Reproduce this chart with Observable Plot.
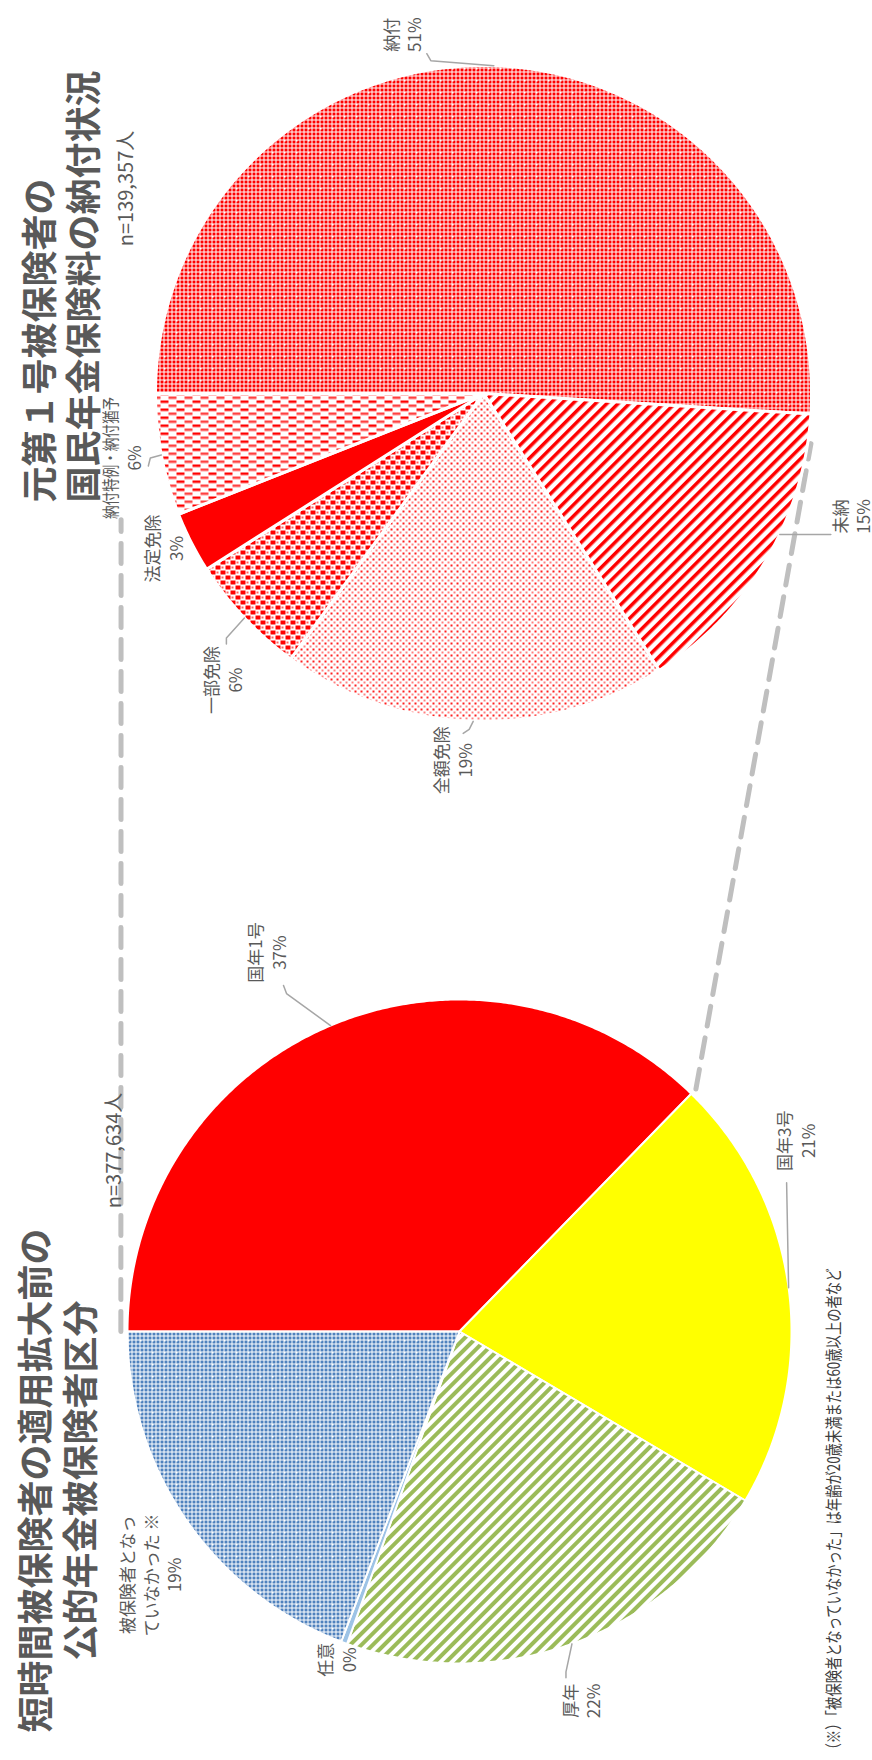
<!DOCTYPE html>
<html><head><meta charset="utf-8">
<script src="https://cdn.jsdelivr.net/npm/d3@7"></script>
<script src="https://cdn.jsdelivr.net/npm/@observablehq/plot@0.6"></script>
<style>
html,body{margin:0;padding:0;background:#fff;}
#chart{width:872px;height:1760px;}
</style></head><body>
<svg id="defs" width="0" height="0" style="position:absolute"><defs id="pdefs"></defs></svg>
<div id="chart"></div>
<script>
// ---------- data ----------
const leftCategories = ["国年1号", "国年3号", "厚年", "任意", "被保険者となっていなかった※"];
const leftShares = [37.3, 21.2, 22.0, 0.3, 19.2];
const leftLabelText = ["国年1号", "国年3号", "厚年", "任意", "被保険者となっ\nていなかった ※"];
const leftTotal = "n=377,634人";
const leftTitle = "短時間被保険者の適用拡大前の\n公的年金被保険者区分";

const rightCategories = ["納付", "未納", "全額免除", "一部免除", "法定免除", "納付特例・納付猶予"];
const rightShares = [51, 15, 19, 6, 3, 6];
const rightLabelText = ["納付", "未納", "全額免除", "一部免除", "法定免除", "納付特例・納付猶予"];
const rightTotal = "n=139,357人";
const rightTitle = "元第１号被保険者の\n国民年金保険料の納付状況";

const footnote = "（※）「被保険者となっていなかった」は年齢が20歳未満または60歳以上の者など";

// ---------- layout / styles ----------
const pieL = {cx: 459, cy: 1331, r: 332};
const pieR = {cx: 483, cy: 393, r: 328};
const leftFills = ["#FF0000", "#FFFF00", "url(#pGreen)", "#9DC3E6", "url(#pBlue)"];
const rightFills = ["url(#pRedFine)", "url(#pRedStripe)", "url(#pDots)", "url(#pPlaid)", "#FF0000", "url(#pDash)"];
const leftLabelLayout = [
  {dx: -64, dy: -73, leader: [[0, 0], [-44, -32], [-47, -40]]},
  {dx: 7, dy: -147, leader: [[0, 0], [-2, -105]]},
  {dx: 9, dy: 57, leader: [[0, 0], [-6, 28], [-6, 34]]},
  {dx: -8, dy: 17, leader: null},
  {dx: -36, dy: 55, leader: null}
];
const rightLabelLayout = [
  {dx: -92, dy: -31, leader: [[0, 0], [-63, -5], [-67, -12]]},
  {dx: 85, dy: -44, leader: [[14, -26], [65, -26]]},
  {dx: -21, dy: 39, leader: [[0, 0], [-4, 8], [-10, 12]]},
  {dx: -22, dy: 62, leader: [[0, 0], [-18, 20], [-18, 26]]},
  {dx: -28, dy: 6, leader: null},
  {dx: -40, dy: 3, leader: [[0, 0], [-11, 3], [-13, 11]]}
];
const connectorLayout = [
  [{pie: "L", boundary: 0, rf: 1.02}, {pie: "R", deg: 250.8, rf: 1.17}],
  [{pie: "L", boundary: 1, rf: 1.02}, {pie: "R", deg: 98.7, rf: 1.01}]
];

// ---------- patterns ----------
function pattern(id, w, h, body, transform) {
  return `<pattern id="${id}" patternUnits="userSpaceOnUse" width="${w}" height="${h}"${transform ? ` patternTransform="${transform}"` : ""}>${body}</pattern>`;
}
function fineGrid(color) {
  let b = `<rect width="12" height="12" fill="#fff"/>`;
  for (let i = 0; i < 3; i++) for (let j = 0; j < 3; j++)
    b += `<rect x="${4 * i}" y="${4 * j}" width="3" height="3" fill="${color}"/>`;
  b += `<rect x="7" y="7" width="2" height="2" fill="#fff"/>`;
  return b;
}
const defs = [
  pattern("pBlue", 12, 12, fineGrid("#4F81BD")),
  pattern("pRedFine", 12, 12, fineGrid("#FF0000")),
  pattern("pGreen", 8, 8, `<rect width="8" height="8" fill="#fff"/><rect width="4" height="8" fill="#9BBB59"/>`, "rotate(45)"),
  pattern("pRedStripe", 8, 8, `<rect width="8" height="8" fill="#fff"/><rect width="3.5" height="8" fill="#FF0000"/>`, "rotate(45)"),
  pattern("pDots", 6, 6, `<rect width="6" height="6" fill="#fff"/><rect x="0" y="0" width="2" height="2" fill="#FF2020"/><rect x="3" y="3" width="2" height="2" fill="#FF8080"/>`),
  pattern("pPlaid", 10, 10, `<rect width="10" height="10" fill="#fff"/><rect x="0" y="0" width="5" height="4" fill="#FF0000"/><rect x="5" y="5" width="5" height="4" fill="#FF0000"/><rect x="6" y="1" width="2" height="2" fill="#FF6060"/><rect x="1" y="6" width="2" height="2" fill="#FF6060"/>`),
  pattern("pDash", 16, 8, `<rect width="16" height="8" fill="#fff"/><rect x="0" y="0" width="8" height="2.5" fill="#FF0000"/><rect x="8" y="4" width="8" height="2.5" fill="#FF4040"/>`)
];
document.getElementById("pdefs").innerHTML = defs.join("");

// ---------- geometry ----------
const pieGen = d3.pie().sort(null).startAngle(1.5 * Math.PI).endAngle(3.5 * Math.PI);
function pt(p, a, r) { return {x: p.cx + r * Math.sin(a), y: p.cy - r * Math.cos(a)}; }
function polygon(p, arc) {
  const pts = [{x: p.cx, y: p.cy}];
  const n = Math.max(2, Math.ceil((arc.endAngle - arc.startAngle) / 0.008));
  for (let k = 0; k <= n; k++) pts.push(pt(p, arc.startAngle + (arc.endAngle - arc.startAngle) * k / n, p.r));
  return pts;
}
const arcsL = pieGen(leftShares);
const arcsR = pieGen(rightShares);

function sliceMarks(p, arcs, fills, sw) {
  return arcs.map((a, i) => Plot.line(polygon(p, a), {x: "x", y: "y", curve: "linear-closed", fill: fills[i], stroke: "white", strokeWidth: sw}));
}
function labels(p, arcs, texts, shares, layout) {
  const lab = [], lead = [];
  arcs.forEach((a, i) => {
    const e = pt(p, (a.startAngle + a.endAngle) / 2, p.r);
    const L = layout[i];
    lab.push({x: e.x + L.dx, y: e.y + L.dy, text: texts[i] + "\n" + Math.round(shares[i]) + "%"});
    if (L.leader) L.leader.forEach(([ox, oy]) => lead.push({id: texts[i], x: e.x + ox, y: e.y + oy}));
  });
  return {lab, lead};
}
const labL = labels(pieL, arcsL, leftLabelText, leftShares, leftLabelLayout);
const labR = labels(pieR, arcsR, rightLabelText, rightShares, rightLabelLayout);

function connectorPoint(c) {
  const p = c.pie === "L" ? pieL : pieR;
  const arcs = c.pie === "L" ? arcsL : arcsR;
  const ang = c.deg != null ? c.deg * Math.PI / 180 : (c.boundary === 0 ? arcs[0].startAngle : arcs[c.boundary - 1].endAngle);
  return pt(p, ang, p.r * c.rf);
}
const connectors = connectorLayout.flatMap((c, i) => c.map(e => ({id: i, ...connectorPoint(e)})));

const textColor = "#595959";
const chart = Plot.plot({
  width: 872, height: 1760, margin: 0,
  x: {domain: [0, 872], range: [0, 872], axis: null},
  y: {domain: [0, 1760], range: [0, 1760], axis: null},
  style: {fontFamily: "'Noto Sans CJK JP', 'Noto Sans', sans-serif", background: "white", overflow: "visible"},
  marks: [
    Plot.line(connectors, {x: "x", y: "y", z: "id", stroke: "#BFBFBF", strokeWidth: 5, strokeDasharray: "20,12"}),
    ...sliceMarks(pieL, arcsL, leftFills, 2),
    ...sliceMarks(pieR, arcsR, rightFills, 3),
    Plot.line(labL.lead, {x: "x", y: "y", z: "id", stroke: "#A6A6A6", strokeWidth: 1.5}),
    Plot.line(labR.lead, {x: "x", y: "y", z: "id", stroke: "#A6A6A6", strokeWidth: 1.5}),
    Plot.text(labL.lab, {x: "x", y: "y", text: "text", rotate: -90, fontSize: 17, lineHeight: 1.4, fill: textColor}),
    Plot.text(labR.lab, {x: "x", y: "y", text: "text", rotate: -90, fontSize: 17, lineHeight: 1.4, fill: textColor}),
    Plot.text([leftTotal], {x: pieL.cx - 345, y: pieL.cy - 181, text: d => d, rotate: -90, fontSize: 20, fill: textColor}),
    Plot.text([rightTotal], {x: pieR.cx - 357, y: pieR.cy - 205, text: d => d, rotate: -90, fontSize: 20, fill: textColor}),
    Plot.text([leftTitle], {x: 57, y: 1480, text: d => d, rotate: -90, fontSize: 36, fontWeight: "bold", lineHeight: 1.25, fill: textColor}),
    Plot.text([rightTitle], {x: 60, y: 502, text: d => d, rotate: -90, textAnchor: "start", fontSize: 36, fontWeight: "bold", lineHeight: 1.22, fill: textColor}),
    Plot.text([footnote], {x: 834, y: 1756, text: d => d, rotate: -90, textAnchor: "start", fontSize: 17, fill: "#404040"})
  ]
});
document.getElementById("chart").appendChild(chart);
d3.select(chart).selectAll("text").filter(function () { return this.textContent.startsWith("（※）"); })
  .attr("textLength", 488).attr("lengthAdjust", "spacingAndGlyphs");
d3.select(chart).selectAll("tspan").filter(function () { return this.textContent === "納付特例・納付猶予"; })
  .attr("textLength", 122).attr("lengthAdjust", "spacingAndGlyphs");
</script>
</body></html>
